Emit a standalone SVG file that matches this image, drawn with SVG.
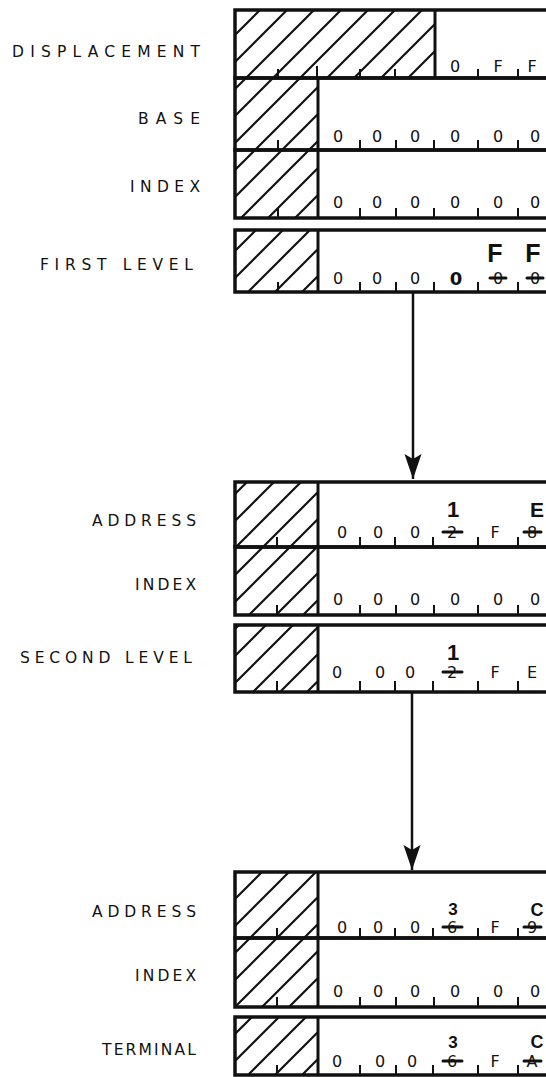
<svg xmlns="http://www.w3.org/2000/svg" width="546" height="1077" viewBox="0 0 546 1077">
<style>
.lbl{font-family:"DejaVu Sans","Liberation Sans",sans-serif;font-size:15.5px;fill:#111}
.dg{font-family:"DejaVu Sans","Liberation Sans",sans-serif;font-size:16px;fill:#111;text-anchor:middle}
.hw{font-family:"Liberation Sans",Arial,sans-serif;font-weight:bold;fill:#111;text-anchor:middle}
.box{fill:none;stroke:#111;stroke-width:3.5}
.hatch{fill:url(#hat);stroke:none}
.div{stroke:#111;stroke-width:3}
.tk{stroke:#111;stroke-width:2}
.st{stroke:#111;stroke-width:3;stroke-linecap:round}
.con{stroke:#111;stroke-width:2.5;fill:none}
</style>
<defs>
<pattern id="hat" patternUnits="userSpaceOnUse" width="27" height="27">
<path d="M0,27 L27,0 M-3,3 L3,-3 M24,30 L30,24" stroke="#111" stroke-width="2.2"/>
</pattern>
<marker id="ah" markerUnits="userSpaceOnUse" markerWidth="28" markerHeight="18" refX="25" refY="8.5" orient="auto">
<path d="M0,0 L25,8.5 L0,17 L5,8.5 z" fill="#111"/>
</marker>
</defs>

<g id="displacement">
<text class="lbl" x="12" y="57" textLength="188" lengthAdjust="spacing">DISPLACEMENT</text>
<rect class="hatch" x="235" y="10" width="200" height="68"/>
<rect class="box" x="235" y="10" width="330" height="68"/>
<line class="div" x1="435" y1="10" x2="435" y2="78"/>
<path class="tk" d="M278,78v-9 M317,78v-12 M360,78v-9 M395,78v-9 M478,78v-9 M518,78v-9"/>
<text class="dg" x="455" y="72">0</text><text class="dg" x="498" y="72">F</text><text class="dg" x="532" y="72">F</text>
</g>

<g id="base">
<text class="lbl" x="138" y="124" textLength="62" lengthAdjust="spacing">BASE</text>
<rect class="hatch" x="235" y="78" width="83" height="72"/>
<rect class="box" x="235" y="78" width="330" height="72"/>
<line class="div" x1="318" y1="78" x2="318" y2="150"/>
<path class="tk" d="M278,150v-10 M360,150v-10 M396,150v-10 M434,150v-10 M478,150v-10 M518,150v-10"/>
<text class="dg" x="338" y="142">0</text><text class="dg" x="377" y="142">0</text><text class="dg" x="415" y="142">0</text><text class="dg" x="455" y="142">0</text><text class="dg" x="498" y="142">0</text><text class="dg" x="535" y="142">0</text>
</g>

<g id="index1">
<text class="lbl" x="130" y="192" textLength="70" lengthAdjust="spacing">INDEX</text>
<rect class="hatch" x="235" y="150" width="83" height="68"/>
<rect class="box" x="235" y="150" width="330" height="68"/>
<line class="div" x1="318" y1="150" x2="318" y2="218"/>
<path class="tk" d="M278,218v-10 M360,218v-10 M396,218v-10 M434,218v-10 M478,218v-10 M518,218v-10"/>
<text class="dg" x="338" y="208">0</text><text class="dg" x="377" y="208">0</text><text class="dg" x="415" y="208">0</text><text class="dg" x="455" y="208">0</text><text class="dg" x="498" y="208">0</text><text class="dg" x="535" y="208">0</text>
</g>

<g id="first-level">
<text class="lbl" x="40" y="270" textLength="153" lengthAdjust="spacing">FIRST LEVEL</text>
<rect class="hatch" x="235" y="230" width="83" height="62"/>
<rect class="box" x="235" y="230" width="330" height="62"/>
<line class="div" x1="318" y1="230" x2="318" y2="292"/>
<path class="tk" d="M278,292v-10 M360,292v-10 M396,292v-10 M434,292v-10 M478,292v-10 M518,292v-10"/>
<text class="dg" x="338" y="284">0</text><text class="dg" x="377" y="284">0</text><text class="dg" x="415" y="284">0</text>
<text class="dg" x="456" y="285" style="font-weight:bold;font-size:18px">0</text>
<text class="dg" x="498" y="284">0</text><line class="st" x1="490" y1="278" x2="506" y2="278"/>
<text class="dg" x="535" y="284">0</text><line class="st" x1="527" y1="278" x2="543" y2="278"/>
<text class="hw" x="495" y="262" font-size="25">F</text><text class="hw" x="533" y="262" font-size="25">F</text>
</g>

<g id="address1">
<text class="lbl" x="92" y="526" textLength="104" lengthAdjust="spacing">ADDRESS</text>
<rect class="hatch" x="235" y="482" width="83" height="65"/>
<rect class="box" x="235" y="482" width="330" height="65"/>
<line class="div" x1="318" y1="482" x2="318" y2="547"/>
<path class="tk" d="M277,547v-10 M360,547v-10 M395,547v-10 M433,547v-10 M478,547v-10 M518,547v-10"/>
<text class="dg" x="342" y="538">0</text><text class="dg" x="378" y="538">0</text><text class="dg" x="415" y="538">0</text>
<text class="dg" x="452" y="538">2</text><line class="st" x1="443" y1="532" x2="462" y2="532"/>
<text class="dg" x="495" y="538">F</text>
<text class="dg" x="532" y="538">8</text><line class="st" x1="524" y1="532" x2="541" y2="532"/>
<text class="hw" x="453" y="517" font-size="22">1</text><text class="hw" x="537" y="517" font-size="21">E</text>
</g>

<g id="index2">
<text class="lbl" x="135" y="590" textLength="61" lengthAdjust="spacing">INDEX</text>
<rect class="hatch" x="235" y="547" width="83" height="68"/>
<rect class="box" x="235" y="547" width="330" height="68"/>
<line class="div" x1="318" y1="547" x2="318" y2="615"/>
<path class="tk" d="M277,615v-10 M360,615v-10 M396,615v-10 M434,615v-10 M478,615v-10 M518,615v-10"/>
<text class="dg" x="338" y="605">0</text><text class="dg" x="378" y="605">0</text><text class="dg" x="415" y="605">0</text><text class="dg" x="455" y="605">0</text><text class="dg" x="498" y="605">0</text><text class="dg" x="535" y="605">0</text>
</g>

<g id="second-level">
<text class="lbl" x="20" y="663" textLength="172" lengthAdjust="spacing">SECOND LEVEL</text>
<rect class="hatch" x="235" y="625" width="83" height="67"/>
<rect class="box" x="235" y="625" width="330" height="67"/>
<line class="div" x1="318" y1="625" x2="318" y2="692"/>
<path class="tk" d="M277,692v-11 M360,692v-11 M395,692v-11 M433,692v-11 M478,692v-11 M518,692v-11"/>
<text class="dg" x="337" y="678">0</text><text class="dg" x="380" y="678">0</text><text class="dg" x="410" y="678">0</text>
<text class="dg" x="452" y="678">2</text><line class="st" x1="443" y1="672" x2="462" y2="672"/>
<text class="dg" x="495" y="678">F</text><text class="dg" x="532" y="678">E</text>
<text class="hw" x="453" y="660" font-size="22">1</text>
</g>

<g id="address2">
<text class="lbl" x="92" y="917" textLength="104" lengthAdjust="spacing">ADDRESS</text>
<rect class="hatch" x="235" y="872" width="83" height="66"/>
<rect class="box" x="235" y="872" width="330" height="66"/>
<line class="div" x1="318" y1="872" x2="318" y2="938"/>
<path class="tk" d="M277,938v-10 M360,938v-10 M395,938v-10 M433,938v-10 M478,938v-10 M518,938v-10"/>
<text class="dg" x="342" y="933">0</text><text class="dg" x="378" y="933">0</text><text class="dg" x="415" y="933">0</text>
<text class="dg" x="452" y="933">6</text><line class="st" x1="443" y1="927" x2="462" y2="927"/>
<text class="dg" x="495" y="933">F</text>
<text class="dg" x="532" y="933">9</text><line class="st" x1="524" y1="927" x2="541" y2="927"/>
<text class="hw" x="453" y="915" font-size="17">3</text><text class="hw" x="537" y="916" font-size="18">C</text>
</g>

<g id="index3">
<text class="lbl" x="135" y="981" textLength="61" lengthAdjust="spacing">INDEX</text>
<rect class="hatch" x="235" y="938" width="83" height="69"/>
<rect class="box" x="235" y="938" width="330" height="69"/>
<line class="div" x1="318" y1="938" x2="318" y2="1007"/>
<path class="tk" d="M277,1007v-10 M360,1007v-10 M396,1007v-10 M434,1007v-10 M478,1007v-10 M518,1007v-10"/>
<text class="dg" x="338" y="997">0</text><text class="dg" x="378" y="997">0</text><text class="dg" x="415" y="997">0</text><text class="dg" x="455" y="997">0</text><text class="dg" x="498" y="997">0</text><text class="dg" x="535" y="997">0</text>
</g>

<g id="terminal">
<text class="lbl" x="102" y="1055" textLength="94" lengthAdjust="spacing">TERMINAL</text>
<rect class="hatch" x="235" y="1017" width="83" height="58"/>
<rect class="box" x="235" y="1017" width="330" height="58"/>
<line class="div" x1="318" y1="1017" x2="318" y2="1075"/>
<path class="tk" d="M277,1075v-10 M360,1075v-10 M396,1075v-10 M433,1075v-10 M478,1075v-10 M518,1075v-10"/>
<text class="dg" x="337" y="1067">0</text><text class="dg" x="380" y="1067">0</text><text class="dg" x="412" y="1067">0</text>
<text class="dg" x="452" y="1067">6</text><line class="st" x1="443" y1="1061" x2="462" y2="1061"/>
<text class="dg" x="495" y="1067">F</text>
<text class="dg" x="532" y="1067">A</text><line class="st" x1="524" y1="1061" x2="541" y2="1061"/>
<text class="hw" x="453" y="1048" font-size="17">3</text><text class="hw" x="537" y="1048" font-size="18">C</text>
</g>

<g id="connectors">
<line class="con" x1="413" y1="292" x2="413" y2="479" marker-end="url(#ah)"/>
<line class="con" x1="412" y1="692" x2="412" y2="870" marker-end="url(#ah)"/>
</g>
</svg>
